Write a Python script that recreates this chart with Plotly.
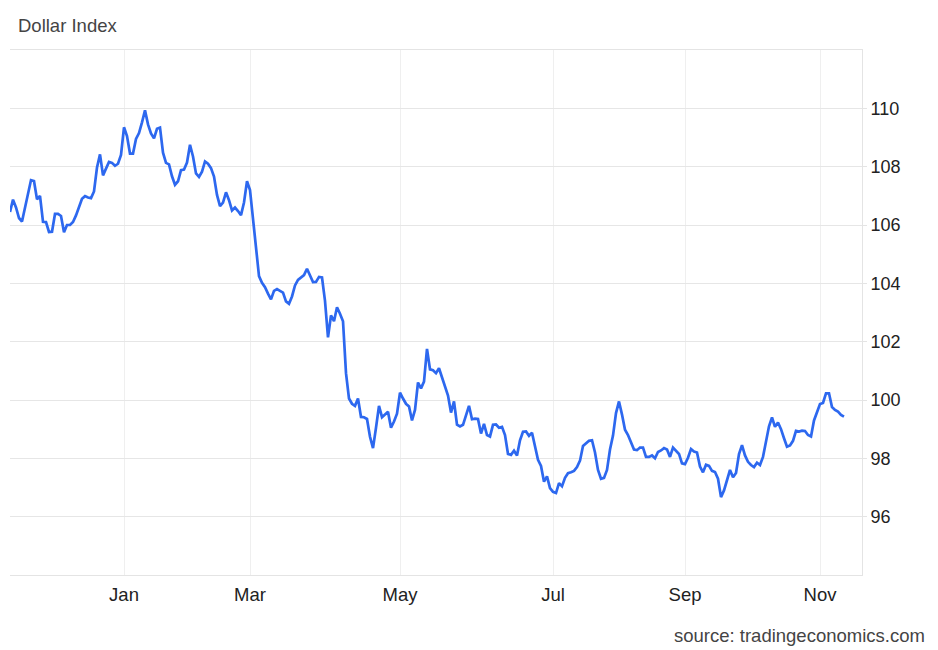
import plotly.graph_objects as go

# Dollar Index daily observations (ordinal sequence, mid-Nov 2024 -> mid-Nov 2025)
dollar_index = [
    106.45, 106.87, 106.60, 106.24, 106.12, 106.60, 107.08, 107.54, 107.51, 106.88,
    107.00, 106.11, 106.10, 105.76, 105.77, 106.38, 106.38, 106.31, 105.75, 106.00,
    106.00, 106.10, 106.33, 106.63, 106.90, 106.99, 106.94, 106.92, 107.15, 107.97,
    108.42, 107.70, 107.96, 108.16, 108.13, 108.03, 108.10, 108.40, 109.35, 109.05,
    108.45, 108.45, 108.95, 109.15, 109.52, 109.93, 109.45, 109.14, 108.97, 109.30,
    109.34, 108.48, 108.13, 108.08, 107.67, 107.38, 107.50, 107.88, 107.90, 108.14,
    108.75, 108.35, 107.77, 107.65, 107.83, 108.18, 108.10, 107.95, 107.66, 107.03,
    106.65, 106.77, 107.12, 106.85, 106.50, 106.60, 106.48, 106.34, 106.77, 107.50,
    107.20, 106.22, 105.20, 104.25, 104.02, 103.87, 103.65, 103.45, 103.74, 103.80,
    103.74, 103.68, 103.38, 103.30, 103.55, 103.93, 104.12, 104.21, 104.28, 104.50,
    104.28, 104.04, 104.05, 104.22, 104.20, 103.40, 102.15, 102.90, 102.70, 103.18,
    102.96, 102.70, 100.92, 100.05, 99.87, 99.80, 100.05, 99.42, 99.41, 99.35,
    98.74, 98.35, 99.05, 99.80, 99.41, 99.49, 99.60, 99.05, 99.26, 99.53,
    100.25, 100.05, 99.87, 99.78, 99.30, 99.66, 100.60, 100.40, 100.63, 101.75,
    101.05, 101.02, 100.92, 101.09, 100.80, 100.46, 100.15, 99.57, 99.95, 99.15,
    99.09, 99.15, 99.49, 99.80, 99.34, 99.36, 99.35, 98.85, 99.18, 98.80,
    98.75, 99.15, 99.16, 99.05, 99.08, 98.80, 98.15, 98.12, 98.26, 98.10,
    98.62, 98.91, 98.92, 98.77, 98.88, 98.45, 97.95, 97.74, 97.20, 97.38,
    96.98, 96.85, 96.81, 97.15, 97.04, 97.33, 97.49, 97.52, 97.57, 97.70,
    97.92, 98.42, 98.50, 98.60, 98.62, 98.20, 97.60, 97.30, 97.33, 97.60,
    98.30, 98.78, 99.55, 99.95, 99.50, 98.98, 98.80, 98.55, 98.30, 98.28,
    98.37, 98.37, 98.05, 98.05, 98.10, 98.00, 98.22, 98.27, 98.35, 98.30,
    98.05, 98.37, 98.26, 98.15, 97.83, 97.80, 98.02, 98.32, 98.23, 98.20,
    97.72, 97.52, 97.78, 97.74, 97.57, 97.53, 97.30, 96.67, 96.90, 97.30,
    97.60, 97.35, 97.50, 98.15, 98.45, 98.10, 97.88, 97.77, 97.70, 97.85,
    97.77, 98.05, 98.58, 99.10, 99.40, 99.08, 99.23, 99.00, 98.69, 98.40,
    98.44, 98.60, 98.94, 98.92, 98.95, 98.94, 98.80, 98.75, 99.30, 99.60,
    99.86, 99.90, 100.23, 100.23, 99.76, 99.66, 99.60, 99.49, 99.43,
]
observation = list(range(len(dollar_index)))

# Month labels and the observation index where each month starts
month_labels = ["Jan", "Mar", "May", "Jul", "Sep", "Nov"]
month_start_obs = [38, 80, 130, 181, 225, 270]

y_ticks = [96, 98, 100, 102, 104, 106, 108, 110]

FONT = "Liberation Sans, Arial, sans-serif"

fig = go.Figure()
fig.add_trace(go.Scatter(
    x=observation, y=dollar_index, mode="lines",
    line=dict(color="#2d68ef", width=2.7),
    hoverinfo="y",
))

fig.update_layout(
    width=930, height=642,
    margin=dict(l=2, r=76, t=42, b=75),
    paper_bgcolor="white", plot_bgcolor="white",
    showlegend=False,
    font=dict(family=FONT, size=18, color="#222"),
    xaxis=dict(
        range=[0, 284],
        tickmode="array", tickvals=month_start_obs, ticktext=month_labels,
        showgrid=True, gridcolor="#efefef", gridwidth=1,
        zeroline=False,
        showline=True, linecolor="#e4e4e4", linewidth=1, mirror=True,
        ticks="", ticklabelstandoff=3,
        tickfont=dict(family=FONT, size=18.5, color="#222"),
    ),
    yaxis=dict(
        range=[94, 112], side="right",
        tickmode="array", tickvals=y_ticks,
        showgrid=True, gridcolor="#e6e6e6", gridwidth=1,
        zeroline=False,
        showline=True, linecolor="#e4e4e4", linewidth=1,
        ticks="outside", ticklen=4, tickcolor="#e4e4e4",
        tickfont=dict(family=FONT, size=18, color="#222"),
    ),
    annotations=[
        dict(text="Dollar Index", xref="paper", yref="paper",
             x=0.0, y=1.0, xshift=6, yshift=25, xanchor="left", yanchor="middle",
             showarrow=False, font=dict(family=FONT, size=18.5, color="#444")),
        dict(text="source: tradingeconomics.com", xref="paper", yref="paper",
             x=1.0, y=0.0, xshift=65, yshift=-60, xanchor="right", yanchor="middle",
             showarrow=False, font=dict(family=FONT, size=18.5, color="#444")),
    ],
)

fig.write_html("out.html")
